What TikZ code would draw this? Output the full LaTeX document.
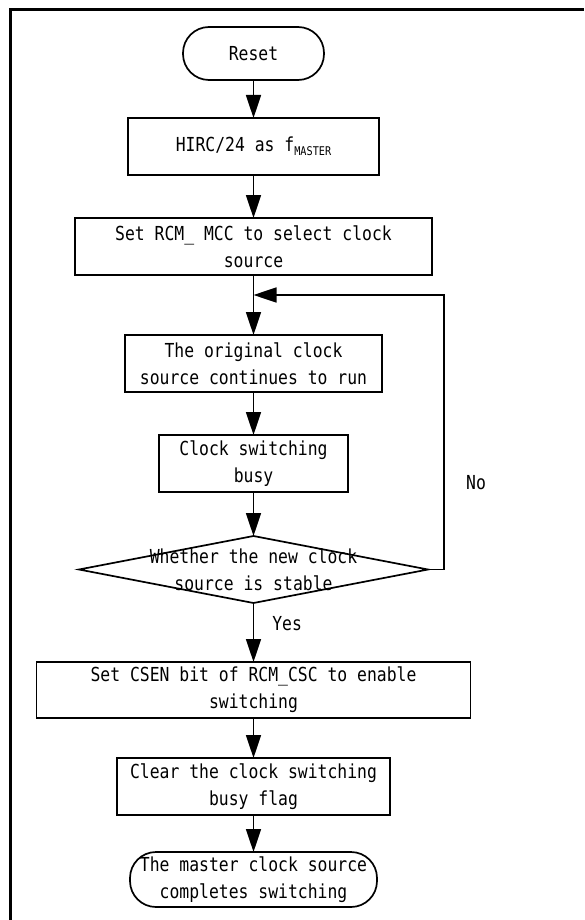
\documentclass[tikz,border=0pt]{standalone}
\usepackage{fontspec}
\setmainfont{DejaVu Sans Mono}[FakeStretch=0.85]
\usepackage{tikz}
\usetikzlibrary{positioning,shapes.geometric,arrows.meta}

\tikzset{
  box/.style={draw, line width=1.7pt, rectangle, minimum height=57pt, inner sep=0pt,
    outer sep=0pt, align=center, font=\fontsize{19.3}{26.7}\selectfont},
  term/.style={box, rounded corners=26pt},
  decision/.style={draw, line width=1.7pt, diamond, inner sep=0pt, outer sep=0pt},
  txt/.style={inner sep=2pt, align=center, font=\fontsize{19.3}{26.7}\selectfont},
  flow/.style={line width=1.7pt, -{Triangle[length=23pt,width=15pt]}},
}

\begin{document}
\begin{tikzpicture}
\useasboundingbox (0,0) rectangle (584pt,-920pt);
\draw[line width=3pt] (10pt,-920pt) -- (10pt,-9.5pt) -- (584pt,-9.5pt);

\node[term, minimum width=141pt, minimum height=53pt] (reset) at (253.5pt,-53.5pt) {Reset};
\node[box, minimum width=251pt, below=38pt of reset] (hirc) {HIRC/24 as f\raisebox{-4pt}{\fontsize{12}{12}\selectfont MASTER}};
\node[box, minimum width=357pt, below=43pt of hirc] (mcc) {Set RCM\_ MCC to select clock\\source};
\node[box, minimum width=257pt, below=60pt of mcc] (orig) {The original clock\\source continues to run};
\node[box, minimum width=189pt, below=43pt of orig] (busy) {Clock switching\\busy};
\node[decision, minimum width=349pt, minimum height=67pt, below=44pt of busy] (stable) {};
\node[txt] at (stable) {Whether the new clock\\source is stable};
\node[box, minimum width=434pt, minimum height=56pt, below=59pt of stable] (csen) {Set CSEN bit of RCM\_CSC to enable\\switching};
\node[box, minimum width=273pt, below=40pt of csen] (clear) {Clear the clock switching\\busy flag};
\node[term, minimum width=247pt, minimum height=55pt, below=37pt of clear] (done) {The master clock source\\completes switching};
\coordinate[below=20pt of mcc] (join);

\draw[flow] (reset) -- (hirc);
\draw[flow] (hirc) -- (mcc);
\draw[flow] (mcc) -- (orig);
\draw[flow] (orig) -- (busy);
\draw[flow] (busy) -- (stable);
\draw[flow] (stable) -- node[txt, pos=0.35, right=16pt] {Yes} (csen);
\draw[flow] (csen) -- (clear);
\draw[flow] (clear) -- (done);
\draw[flow] (stable.east) -- ++(16pt,0) coordinate (turn) |- (join);
\node[txt, right=20pt of turn, yshift=87pt] {No};
\end{tikzpicture}
\end{document}
